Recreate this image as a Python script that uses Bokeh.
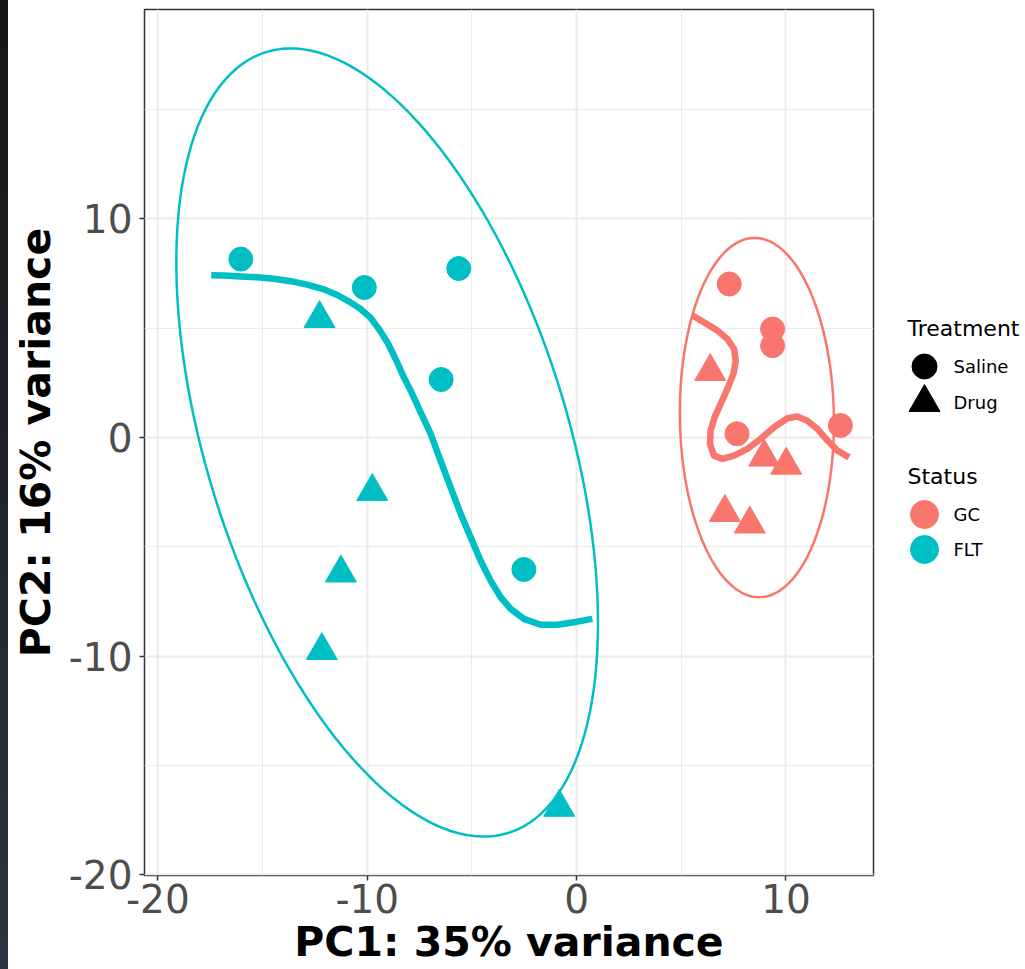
import numpy as np
from bokeh.plotting import figure
from bokeh.models import Range1d, FixedTicker, CustomJSTickFormatter, Div
from bokeh.layouts import row
from bokeh.core.properties import value
from bokeh.embed import file_html
from bokeh.resources import INLINE

# ---------------- data ----------------
status = ["GC", "FLT"]
treatment = ["Saline", "Drug"]
status_colors = ["#F8766D", "#00BFC4"]

flt_saline_x = [-16.04, -10.14, -5.63, -6.47, -2.52]
flt_saline_y = [8.16, 6.86, 7.73, 2.65, -6.04]
flt_drug_x = [-12.28, -9.76, -11.26, -12.17, -0.83]
flt_drug_y = [5.44, -2.47, -6.20, -9.75, -16.92]
gc_saline_x = [7.29, 9.36, 9.36, 7.66, 12.60]
gc_saline_y = [7.02, 4.96, 4.20, 0.17, 0.55]
gc_drug_x = [6.38, 8.96, 10.01, 7.08, 8.27]
gc_drug_y = [3.02, -0.90, -1.27, -3.43, -3.96]

flt_curve_x = [-17.45, -16.85, -16.05, -15.26, -14.46, -13.66, -12.87, -12.07, -11.43, -10.80,
               -10.32, -9.84, -9.45, -9.04, -8.65, -8.25, -7.93, -7.45, -6.97, -6.50,
               -6.02, -5.54, -5.06, -4.59, -4.11, -3.63, -3.15, -2.52, -1.72, -0.92, -0.13, 0.75]
flt_curve_y = [7.42, 7.41, 7.37, 7.33, 7.26, 7.15, 6.99, 6.77, 6.52, 6.18,
               5.88, 5.47, 4.97, 4.36, 3.60, 2.75, 2.15, 1.15, 0.16, -1.06,
               -2.28, -3.49, -4.57, -5.63, -6.55, -7.31, -7.84, -8.30, -8.57, -8.57, -8.45, -8.30]
gc_curve_x = [5.53, 6.08, 6.72, 7.20, 7.52, 7.60, 7.49, 7.20, 6.88, 6.59, 6.40, 6.37, 6.56,
              6.96, 7.52, 8.16, 8.79, 9.43, 10.07, 10.54, 11.02, 11.50, 11.98, 12.46, 13.01]
gc_curve_y = [5.58, 5.27, 4.89, 4.51, 4.05, 3.51, 2.91, 2.22, 1.54, 0.92, 0.32, -0.29, -0.83,
              -0.98, -0.83, -0.52, -0.06, 0.47, 0.88, 0.96, 0.77, 0.39, -0.14, -0.60, -0.91]

# 95% ellipses: centre x, centre y, half-extent x, half-extent y, covariance term
flt_ellipse = [-9.05, -0.23, 10.07, 18.03, -83.1]
gc_ellipse = [8.61, 0.91, 3.68, 8.22, -0.87]

x_ticks = [-20, -10, 0, 10]
x_minor = [-15, -5, 5]
y_ticks = [-20, -10, 0, 10]
y_minor = [-15, -5, 5, 15]


def ellipse_path(params, n=160):
    cx, cy, hx, hy, sxy = params
    m = np.array([[hx * hx, sxy], [sxy, hy * hy]])
    L = np.linalg.cholesky(m)
    t = np.linspace(0, 2 * np.pi, n)
    pts = L @ np.vstack([np.cos(t), np.sin(t)])
    return pts[0] + cx, pts[1] + cy


FONT = "DejaVu Sans"

p = figure(width=867, height=969,
           x_range=Range1d(-20.64, 14.18), y_range=Range1d(-20.04, 19.58),
           output_backend="svg", toolbar_location=None,
           min_border_left=136, min_border_right=2, min_border_top=9, min_border_bottom=94)
p.background_fill_color = "white"
p.border_fill_color = "white"
p.outline_line_color = "#333333"
p.outline_line_width = 1.5

fmt = CustomJSTickFormatter(code="return tick.toFixed(0);")
p.xaxis.ticker = FixedTicker(ticks=x_ticks, minor_ticks=x_minor)
p.yaxis.ticker = FixedTicker(ticks=y_ticks, minor_ticks=y_minor)
p.xgrid.ticker = FixedTicker(ticks=x_ticks, minor_ticks=x_minor)
p.ygrid.ticker = FixedTicker(ticks=y_ticks, minor_ticks=y_minor)
for g in (p.xgrid, p.ygrid):
    g.grid_line_color = "#ebebeb"
    g.grid_line_width = 1.8
    g.minor_grid_line_color = "#ebebeb"
    g.minor_grid_line_width = 1.0

for ax in (p.xaxis, p.yaxis):
    ax.formatter = fmt
    ax.axis_line_color = None
    ax.major_tick_line_color = "#333333"
    ax.major_tick_line_width = 1.5
    ax.major_tick_out = 5
    ax.major_tick_in = 0
    ax.minor_tick_line_color = None
    ax.major_label_text_font = FONT
    ax.major_label_text_font_size = "39px"
    ax.major_label_text_color = "#4d4d4d"
    ax.axis_label_text_font = FONT
    ax.axis_label_text_font_size = "41px"
    ax.axis_label_text_font_style = "bold"
    ax.axis_label_text_color = "black"

p.xaxis.axis_label = "PC1: 35% variance"
p.yaxis.axis_label = "PC2: 16% variance"
p.xaxis.major_label_standoff = 3
p.xaxis.axis_label_standoff = 2
p.yaxis.major_label_standoff = 7
p.yaxis.axis_label_standoff = 6

# points
p.scatter(flt_saline_x, flt_saline_y, marker="circle", size=24, color=status_colors[1])
p.scatter(flt_drug_x, flt_drug_y, marker="triangle", size=31, color=status_colors[1])
p.scatter(gc_saline_x, gc_saline_y, marker="circle", size=24, color=status_colors[0])
p.scatter(gc_drug_x, gc_drug_y, marker="triangle", size=31, color=status_colors[0])

# ellipses
ex, ey = ellipse_path(flt_ellipse)
p.line(ex, ey, line_color=status_colors[1], line_width=2.5)
ex, ey = ellipse_path(gc_ellipse)
p.line(ex, ey, line_color=status_colors[0], line_width=2.5)

# smooth curves
p.line(flt_curve_x, flt_curve_y, line_color=status_colors[1], line_width=6.5, line_join="round")
p.line(gc_curve_x, gc_curve_y, line_color=status_colors[0], line_width=6.5, line_join="round")

# ---------------- legend panel ----------------
lf = figure(width=150, height=969, x_range=Range1d(875, 1025), y_range=Range1d(875, 9),
            output_backend="svg", toolbar_location=None,
            min_border_left=0, min_border_right=0, min_border_top=9, min_border_bottom=94,
            x_axis_location=None, y_axis_location=None)
lf.grid.visible = False
lf.outline_line_color = None
lf.border_fill_color = "white"
lf.background_fill_color = "white"

key_x = 924
lab_x = 953
title_x = 907
treat_rows = [366, 402]
status_rows = [514, 549]

lf.text(x=[title_x], y=[327.5], text=["Treatment"], text_font=value(FONT), text_font_size="22px",
        text_color="black", text_baseline="middle", text_align="left")
lf.scatter([key_x], [treat_rows[0]], marker="circle", size=25, color="black")
lf.scatter([key_x], [treat_rows[1]], marker="triangle", size=31, color="black")
lf.text(x=[lab_x, lab_x], y=treat_rows, text=treatment, text_font=value(FONT), text_font_size="18px",
        text_color="black", text_baseline="middle", text_align="left")

lf.text(x=[title_x], y=[475.5], text=["Status"], text_font=value(FONT), text_font_size="22px",
        text_color="black", text_baseline="middle", text_align="left")
lf.scatter([key_x, key_x], status_rows, marker="circle", size=28, color=status_colors)
lf.text(x=[lab_x, lab_x], y=status_rows, text=status, text_font=value(FONT), text_font_size="18px",
        text_color="black", text_baseline="middle", text_align="left")

strip = Div(width=8, height=969, margin=0,
            styles={"background": "linear-gradient(#151515, #2c3541)"})

layout = row(strip, p, lf)
open("out.html", "w").write(file_html(layout, INLINE))
